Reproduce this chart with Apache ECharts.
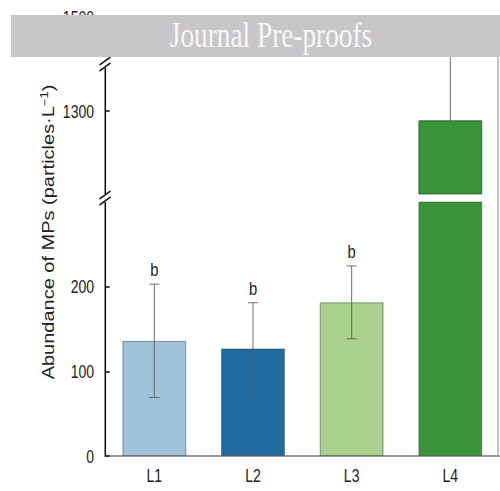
<!DOCTYPE html>
<html>
<head>
<meta charset="utf-8">
<script src="https://cdn.jsdelivr.net/npm/echarts@6/dist/echarts.min.js"></script>
<style>
  html, body { margin: 0; padding: 0; background: #fff; overflow: hidden; width: 500px; height: 491px; }
  /* the figure is drawn wide and squeezed horizontally, like the printed panel */
  #chart { width: 641px; height: 491px; transform: scaleX(0.78); transform-origin: 0 0; }
</style>
</head>
<body>
<div id="chart"></div>
<script>
// ---- data ----
const categories = ['L1', 'L2', 'L3', 'L4'];
const meanValues = [136, 127, 181.5, 1280];
const sdValues = [67, 54, 43, 185];
const groupLetters = ['b', 'b', 'b', ''];
const barColors = ['#9fc4da', '#1f69a1', '#a9d08c', '#3a943a'];
const lowerTicks = [0, 100, 200];
const upperTicks = [1300, 1500];
const lowerRange = [0, 300];
const upperRange = [1123, 1500];

const SQUEEZE = 0.78;          // horizontal squeeze applied by CSS
const sx = v => v / SQUEEZE;   // page x -> chart x
const FONT = '"Liberation Sans", Arial, Helvetica, sans-serif';
const AXIS_X = 134.6;
const PLOT_W = 506;

const chart = echarts.init(document.getElementById('chart'), null, { renderer: 'svg' });

// mean ± SD whisker with caps
function errorItem(params, api) {
  const i = api.value(0);
  const m = api.value(1);
  const s = api.value(2);
  const top = api.coord([i, m + s]);
  const bot = api.coord([i, m - s]);
  const half = 6.4;
  const st = { stroke: '#5a5a5a', lineWidth: 1 };
  return {
    type: 'group',
    children: [
      { type: 'line', shape: { x1: top[0], y1: top[1], x2: bot[0], y2: bot[1] }, style: st },
      { type: 'line', shape: { x1: top[0] - half, y1: top[1], x2: top[0] + half, y2: top[1] }, style: st },
      { type: 'line', shape: { x1: bot[0] - half, y1: bot[1], x2: bot[0] + half, y2: bot[1] }, style: st }
    ]
  };
}

// significance letter above the whisker
function letterItem(params, api) {
  const letter = groupLetters[params.dataIndex];
  if (!letter) return null;
  const top = api.coord([api.value(0), api.value(1) + api.value(2)]);
  return {
    type: 'text', x: top[0], y: top[1] - 14,
    style: { text: letter, fill: '#1a1a1a', font: '19px ' + FONT, align: 'center', verticalAlign: 'middle' }
  };
}

const errData = categories.map((c, i) => [i, meanValues[i], sdValues[i]]);
const barData = meanValues.map((v, i) => ({
  value: v,
  itemStyle: { color: barColors[i] }
}));

function valueAxis(gridIndex, range, ticks) {
  return {
    type: 'value', gridIndex, min: range[0], max: range[1],
    axisLine: { show: true, lineStyle: { color: '#111', width: 2 } },
    axisTick: { show: true, inside: true, length: 6, lineStyle: { color: '#111', width: 1.5 }, customValues: ticks },
    axisLabel: {
      show: true, margin: 14, color: '#222', fontSize: 18, fontFamily: FONT, customValues: ticks,
      formatter: v => String(v)
    },
    splitLine: { show: false }
  };
}

// break marks on the value axis
function breakMark(yc) {
  const x0 = sx(99.5), x1 = sx(110.5);
  return [
    { type: 'rect', z: 100, shape: { x: AXIS_X - 4, y: yc - 4, width: 8, height: 8 }, style: { fill: '#fff' } },
    { type: 'line', z: 101, shape: { x1: x0, y1: yc + 1, x2: x1, y2: yc - 7 }, style: { stroke: '#111', lineWidth: 1.6 } },
    { type: 'line', z: 101, shape: { x1: x0, y1: yc + 7, x2: x1, y2: yc - 1 }, style: { stroke: '#111', lineWidth: 1.6 } }
  ];
}

const option = {
  backgroundColor: '#fff',
  animation: false,
  grid: [
    { left: AXIS_X, width: PLOT_W, top: 202, height: 254, outerBoundsMode: 'none' },
    { left: AXIS_X, width: PLOT_W, top: 17, height: 177, outerBoundsMode: 'none' }
  ],
  xAxis: [
    {
      type: 'category', gridIndex: 0, data: categories,
      axisLine: { show: true, lineStyle: { color: '#9b9b9b', width: 2 } },
      axisTick: { show: false },
      axisLabel: { margin: 10, color: '#222', fontSize: 18, lineHeight: 18, fontFamily: FONT },
      splitLine: { show: false }
    },
    {
      type: 'category', gridIndex: 1, data: categories, show: false
    }
  ],
  yAxis: [
    valueAxis(0, lowerRange, lowerTicks),
    valueAxis(1, upperRange, upperTicks)
  ],
  series: [
    {
      type: 'bar', xAxisIndex: 0, yAxisIndex: 0, data: barData, barWidth: '64.5%', clip: true, z: 2,
      itemStyle: { borderColor: 'rgba(60,60,60,0.55)', borderWidth: 1 }
    },
    {
      type: 'custom', xAxisIndex: 0, yAxisIndex: 0, data: errData, renderItem: errorItem, clip: true, z: 3,
      encode: { x: 0, y: 1 }
    },
    {
      type: 'custom', xAxisIndex: 0, yAxisIndex: 0, data: errData, renderItem: letterItem, clip: false, z: 4,
      encode: { x: 0, y: 1 }
    },
    {
      type: 'bar', xAxisIndex: 1, yAxisIndex: 1, data: barData, barWidth: '64.5%', clip: true, z: 2,
      itemStyle: { borderColor: 'rgba(30,70,30,0.8)', borderWidth: 1 }
    },
    {
      type: 'custom', xAxisIndex: 1, yAxisIndex: 1, data: errData, renderItem: errorItem, clip: true, z: 1,
      encode: { x: 0, y: 1 }
    }
  ],
  graphic: [
    // right frame edge
    { type: 'line', z: 50, shape: { x1: sx(498), y1: 57, x2: sx(498), y2: 456 }, style: { stroke: '#8a8a8a', lineWidth: 1.3 } },
    ...breakMark(198),
    ...breakMark(64),
    { type: 'rect', z: 100, shape: { x: AXIS_X - 3, y: 57, width: 6, height: 10 }, style: { fill: '#fff' } },
    // y-axis title
    {
      type: 'text', z: 100, x: sx(48), y: 232, rotation: Math.PI / 2,
      style: {
        text: '{a|Abundance of MPs (particles·L}{s|−1}{a|)}',
        align: 'center', verticalAlign: 'middle',
        rich: {
          a: { fontSize: 20, fontFamily: FONT, fill: '#222', color: '#222', lineHeight: 22, verticalAlign: 'bottom' },
          s: { fontSize: 13, fontFamily: FONT, fill: '#222', color: '#222', lineHeight: 22, verticalAlign: 'top' }
        }
      }
    },
    // banner
    { type: 'rect', z: 200, shape: { x: sx(11), y: 15, width: sx(500) - sx(11) + 2, height: 42 }, style: { fill: '#c9c6ca' } },
    {
      type: 'text', z: 201, x: sx(271), y: 35,
      style: { text: 'Journal Pre-proofs', fill: '#f7f7f7', font: '35px "Liberation Serif", "Times New Roman", serif', align: 'center', verticalAlign: 'middle' }
    }
  ]
};

chart.setOption(option);
</script>
</body>
</html>
